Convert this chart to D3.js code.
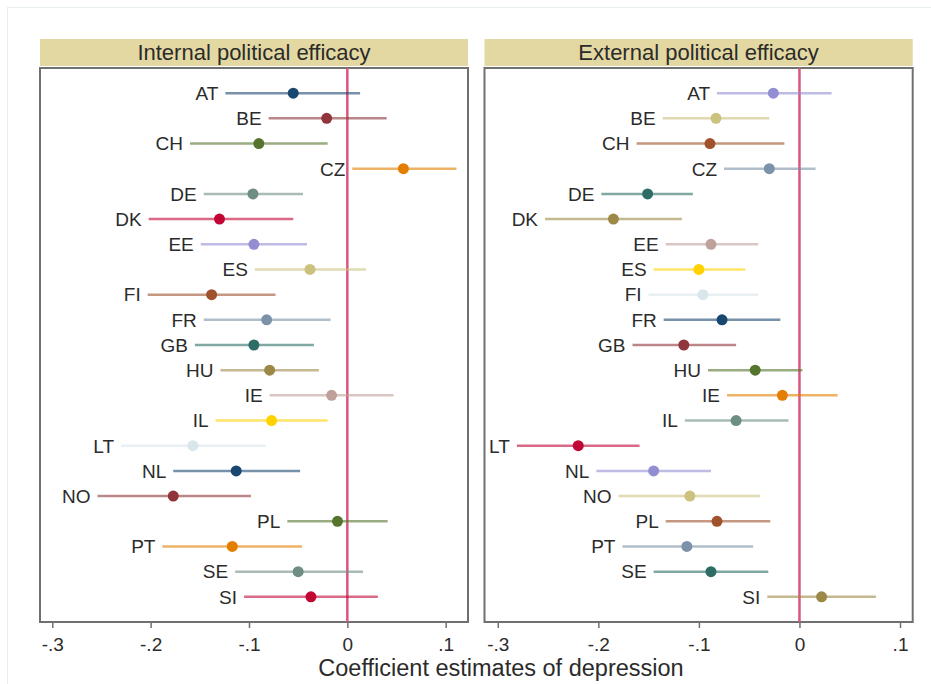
<!DOCTYPE html>
<html>
<head>
<meta charset="utf-8">
<script src="https://cdn.jsdelivr.net/npm/d3@7"></script>
<style>
  body { margin: 0; background: #fff; }
  text { font-family: "Liberation Sans", Arial, sans-serif; fill: #2b2b2b; }
</style>
</head>
<body>
<svg id="chart"></svg>
<script>
var width = 931,
    height = 684;

var countries = ['AT', 'BE', 'CH', 'CZ', 'DE', 'DK', 'EE', 'ES', 'FI', 'FR', 'GB',
    'HU', 'IE', 'IL', 'LT', 'NL', 'NO', 'PL', 'PT', 'SE', 'SI'];

// internal political efficacy: estimate, lower and upper bound
var internalEst = [-0.055, -0.021, -0.090, 0.057, -0.096, -0.130, -0.095, -0.038, -0.138, -0.082, -0.095,
    -0.079, -0.016, -0.077, -0.157, -0.113, -0.177, -0.010, -0.117, -0.050, -0.037];
var internalLow = [-0.124, -0.080, -0.160, 0.005, -0.146, -0.202, -0.149, -0.094, -0.203, -0.146, -0.155,
    -0.129, -0.079, -0.134, -0.230, -0.177, -0.254, -0.061, -0.188, -0.114, -0.105];
var internalHigh = [0.013, 0.040, -0.020, 0.111, -0.045, -0.055, -0.041, 0.019, -0.073, -0.017, -0.034,
    -0.029, 0.047, -0.020, -0.083, -0.048, -0.098, 0.041, -0.046, 0.016, 0.031];

// external political efficacy
var externalEst = [-0.026, -0.083, -0.089, -0.030, -0.151, -0.185, -0.088, -0.100, -0.096, -0.077, -0.115,
    -0.044, -0.017, -0.063, -0.220, -0.145, -0.109, -0.082, -0.112, -0.088, 0.022];
var externalLow = [-0.082, -0.136, -0.162, -0.075, -0.197, -0.253, -0.133, -0.145, -0.150, -0.135, -0.166,
    -0.091, -0.072, -0.114, -0.281, -0.202, -0.180, -0.133, -0.176, -0.145, -0.032];
var externalHigh = [0.032, -0.030, -0.015, 0.016, -0.106, -0.117, -0.041, -0.054, -0.041, -0.019, -0.063,
    0.003, 0.038, -0.011, -0.159, -0.088, -0.039, -0.029, -0.046, -0.031, 0.076];

var panelTitles = ['Internal political efficacy', 'External political efficacy'];
var xTicks = [-0.3, -0.2, -0.1, 0, 0.1];
var tickLabels = ['-.3', '-.2', '-.1', '0', '.1'];

// Stata s2color palette, cycles across both panels
var palette = ['#1a476f', '#90353b', '#55752f', '#e37e00', '#6e8e84', '#c10534', '#938dd2',
    '#cac27e', '#a0522d', '#7b92a8', '#2d6d66', '#9c8847', '#bfa19c', '#ffd200', '#d9e6eb'];

var panels = [
    { title: panelTitles[0], est: internalEst, low: internalLow, high: internalHigh,
      left: 40, right: 468, domain: [-0.3125, 0.1227] },
    { title: panelTitles[1], est: externalEst, low: externalLow, high: externalHigh,
      left: 484.5, right: 912.7, domain: [-0.3132, 0.1126] }
];

var plotTop = 68,
    plotBottom = 622,
    headerTop = 39,
    headerBottom = 66;

var svg = d3.select('svg#chart')
    .attr('width', width)
    .attr('height', height);

svg.append('rect')
    .attr('x', 7.5).attr('y', 7.5)
    .attr('width', width).attr('height', height)
    .attr('fill', 'none')
    .attr('stroke', '#e6eef0');

var yScale = d3.scalePoint()
    .domain(countries)
    .range([plotTop, plotBottom])
    .padding(1);

panels.forEach(function (panel, p) {
    var x = d3.scaleLinear()
        .domain(panel.domain)
        .range([panel.left, panel.right]);
    var g = svg.append('g');

    g.append('rect')
        .attr('x', panel.left)
        .attr('y', headerTop)
        .attr('width', panel.right - panel.left)
        .attr('height', headerBottom - headerTop)
        .attr('fill', '#e4d8a2');
    g.append('text')
        .attr('x', (panel.left + panel.right) / 2)
        .attr('y', (headerTop + headerBottom) / 2)
        .attr('dy', '0.36em')
        .attr('text-anchor', 'middle')
        .style('font-size', '22px')
        .text(panel.title);

    g.append('rect')
        .attr('x', panel.left)
        .attr('y', plotTop)
        .attr('width', panel.right - panel.left)
        .attr('height', plotBottom - plotTop)
        .attr('fill', 'white')
        .attr('stroke', '#707070')
        .attr('stroke-width', 2);

    g.append('line')
        .attr('x1', x(0)).attr('x2', x(0))
        .attr('y1', plotTop).attr('y2', plotBottom)
        .attr('stroke', '#d9567c')
        .attr('stroke-width', 2.5);

    var rows = g.selectAll('g.row')
        .data(countries)
        .enter().append('g')
        .attr('class', 'row');

    rows.each(function (c, i) {
        var color = palette[(p * countries.length + i) % palette.length];
        var row = d3.select(this);
        var y = yScale(c);
        row.append('line')
            .attr('x1', x(panel.low[i]))
            .attr('x2', x(panel.high[i]))
            .attr('y1', y).attr('y2', y)
            .attr('stroke', color)
            .attr('stroke-opacity', 0.6)
            .attr('stroke-width', 2.5);
        row.append('circle')
            .attr('cx', x(panel.est[i]))
            .attr('cy', y)
            .attr('r', 5.5)
            .attr('fill', color);
        row.append('text')
            .attr('x', x(panel.low[i]) - 7)
            .attr('y', y)
            .attr('dy', '0.36em')
            .attr('text-anchor', 'end')
            .style('font-size', '19px')
            .text(c);
    });

    var axis = d3.axisBottom(x)
        .tickValues(xTicks)
        .tickFormat(function (d, i) { return tickLabels[i]; })
        .tickSize(6)
        .tickSizeOuter(0)
        .tickPadding(10);

    var ax = g.append('g')
        .attr('transform', 'translate(0,' + plotBottom + ')')
        .call(axis);
    ax.select('.domain').remove();
    ax.selectAll('.tick line')
        .attr('stroke', '#707070')
        .attr('stroke-width', 1.5);
    ax.selectAll('.tick text')
        .style('font-family', '"Liberation Sans", Arial, sans-serif')
        .style('font-size', '19px')
        .attr('fill', '#2b2b2b');
});

svg.append('text')
    .attr('x', 501)
    .attr('y', 676)
    .attr('text-anchor', 'middle')
    .style('font-size', '23.5px')
    .text('Coefficient estimates of depression');
</script>
</body>
</html>
